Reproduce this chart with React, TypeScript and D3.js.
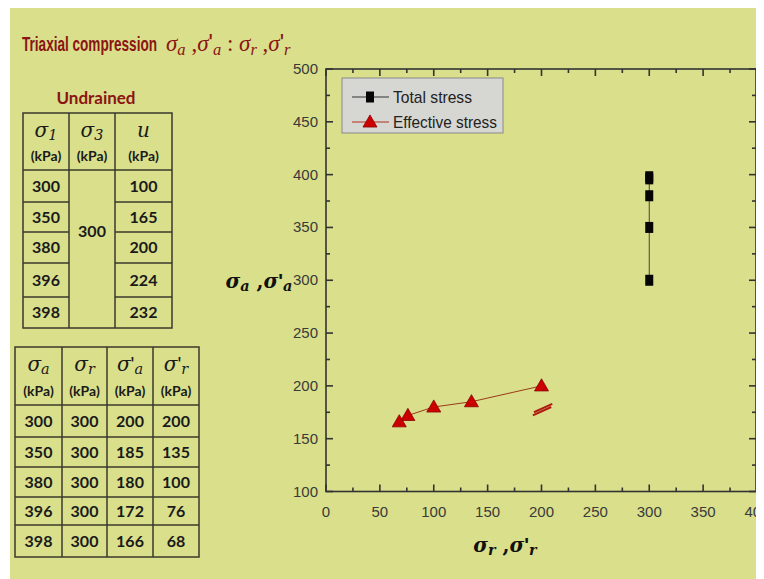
import React from 'react';
import * as d3 from 'd3';

// total stress path (sigma_r, sigma_a)
const totalR = [300, 300, 300, 300, 300];
const totalA = [300, 350, 380, 396, 398];
// effective stress path (sigma'_r, sigma'_a)
const effR = [200, 135, 100, 76, 68];
const effA = [200, 185, 180, 172, 166];

// undrained table
const sigma1 = ['300', '350', '380', '396', '398'];
const sigma3 = '300';
const poreU = ['100', '165', '200', '224', '232'];

// stress table
const colSa = ['300', '350', '380', '396', '398'];
const colSr = ['300', '300', '300', '300', '300'];
const colSaEff = ['200', '185', '180', '172', '166'];
const colSrEff = ['200', '135', '100', '76', '68'];

const xTicks = [0, 50, 100, 150, 200, 250, 300, 350, 400];
const yTicks = [100, 150, 200, 250, 300, 350, 400, 450, 500];
const legendLabels = ['Total stress', 'Effective stress'];

const W = 749;
const H = 571;
const BG = '#d9df8a';
const RED = '#8b1414';
const TBL_FONT = 'Lato, "Open Sans", sans-serif';
const MATH_FONT = '"DejaVu Serif", "Liberation Serif", serif';
const SERIF2 = '"Liberation Serif", "DejaVu Serif", serif';
const SANS = '"Liberation Sans", Arial, sans-serif';

// svg sits at (8,8) because of body margin
const ox = 8;
const oy = 8;

const Sig = ({ sub, prime, size = 20 }: { sub: string; prime?: boolean; size?: number }) => (
  <>
    <tspan fontStyle="italic">σ</tspan>
    {prime && <tspan fontStyle="normal" fontFamily={SANS}>'</tspan>}
    <tspan fontStyle="italic" fontSize={size * 0.72} baselineShift="-22%">{sub}</tspan>
  </>
);

const App = () => {
  const x = d3.scaleLinear().domain([0, 400]).range([326 - ox, 757 - ox]);
  const y = d3.scaleLinear().domain([100, 500]).range([491.5 - oy, 69 - oy]);
  const minorX = d3.range(0, 401, 25);
  const minorY = d3.range(100, 501, 25);

  const totalPts = totalR.map((r, i) => [r, totalA[i]] as [number, number]);
  const effPts = effR.map((r, i) => [r, effA[i]] as [number, number]);
  const line = d3.line<[number, number]>().x((d) => x(d[0])).y((d) => y(d[1]));
  const tri = d3.symbol().type(d3.symbolTriangle).size(85)();

  const [x0, x1] = x.range();
  const [y0, y1] = y.range();

  // table 1 geometry
  const t1c = [23, 69, 115, 172].map((v) => v - ox);
  const t1r = [113, 170, 202, 232, 263, 297, 328].map((v) => v - oy);
  // table 2 geometry
  const t2c = [15, 62, 107, 153, 199].map((v) => v - ox);
  const t2r = [347, 405, 437, 467, 497, 525, 557].map((v) => v - oy);

  const cellText = (cx: number, cy: number, t: string, key: string) => (
    <text key={key} x={cx} y={cy + 5.5} textAnchor="middle"
      fontFamily={TBL_FONT} fontWeight="bold" fontSize={16} fill="#1a1a1a">{t}</text>
  );

  const hdr = (cx: number, top: number, bot: number, sym: React.ReactNode, key: string) => (
    <g key={key}>
      <text x={cx} y={top + (bot - top) * 0.42} textAnchor="middle" fontFamily={MATH_FONT} fontSize={20} fill="#1a1a1a">{sym}</text>
      <text x={cx} y={top + (bot - top) * 0.84} textAnchor="middle" fontFamily={TBL_FONT} fontWeight="bold" fontSize={14} fill="#1a1a1a">(kPa)</text>
    </g>
  );

  const gridStroke = '#3a3a2a';

  return (
    <svg width={W} height={H} style={{ display: 'block', overflow: 'hidden' }}>
      <rect x={2} y={0} width={W - 2} height={H} fill={BG} />

      {/* title */}
      <text x={22 - ox} y={51 - oy} fontFamily={SANS} fontWeight="bold" fontSize={20} fill={RED}
        textLength={135} lengthAdjust="spacingAndGlyphs">
        Triaxial compression
      </text>
      <text x={166 - ox} y={51 - oy} fontFamily={SERIF2} fontSize={23} fill={RED}>
        <Sig sub="a" size={23} />
        <tspan> ,</tspan>
        <Sig sub="a" prime size={23} />
        <tspan> : </tspan>
        <Sig sub="r" size={23} />
        <tspan> ,</tspan>
        <Sig sub="r" prime size={23} />
      </text>

      {/* table 1 */}
      <text x={96 - ox} y={104 - oy} textAnchor="middle" fontFamily={TBL_FONT} fontWeight="bold" fontSize={17} fill={RED}>Undrained</text>
      <g stroke={gridStroke} strokeWidth={1.5} fill="none">
        <rect x={t1c[0]} y={t1r[0]} width={t1c[3] - t1c[0]} height={t1r[6] - t1r[0]} />
        <line x1={t1c[1]} x2={t1c[1]} y1={t1r[0]} y2={t1r[6]} />
        <line x1={t1c[2]} x2={t1c[2]} y1={t1r[0]} y2={t1r[6]} />
        <line x1={t1c[0]} x2={t1c[3]} y1={t1r[1]} y2={t1r[1]} />
        {t1r.slice(2, 6).map((r, i) => (
          <g key={i}>
            <line x1={t1c[0]} x2={t1c[1]} y1={r} y2={r} />
            <line x1={t1c[2]} x2={t1c[3]} y1={r} y2={r} />
          </g>
        ))}
      </g>
      {hdr((t1c[0] + t1c[1]) / 2, t1r[0], t1r[1], <Sig sub="1" size={20} />, 'h1')}
      {hdr((t1c[1] + t1c[2]) / 2, t1r[0], t1r[1], <Sig sub="3" size={20} />, 'h2')}
      {hdr((t1c[2] + t1c[3]) / 2, t1r[0], t1r[1], <tspan fontStyle="italic">u</tspan>, 'h3')}
      {sigma1.map((v, i) => cellText((t1c[0] + t1c[1]) / 2, (t1r[i + 1] + t1r[i + 2]) / 2, v, 's1' + i))}
      {poreU.map((v, i) => cellText((t1c[2] + t1c[3]) / 2, (t1r[i + 1] + t1r[i + 2]) / 2, v, 'u' + i))}
      {cellText((t1c[1] + t1c[2]) / 2, 231 - oy, sigma3, 's3')}

      {/* table 2 */}
      <g stroke={gridStroke} strokeWidth={1.5} fill="none">
        <rect x={t2c[0]} y={t2r[0]} width={t2c[4] - t2c[0]} height={t2r[6] - t2r[0]} />
        {t2c.slice(1, 4).map((c, i) => <line key={'c' + i} x1={c} x2={c} y1={t2r[0]} y2={t2r[6]} />)}
        {t2r.slice(1, 6).map((r, i) => <line key={'r' + i} x1={t2c[0]} x2={t2c[4]} y1={r} y2={r} />)}
      </g>
      {hdr((t2c[0] + t2c[1]) / 2, t2r[0], t2r[1], <Sig sub="a" size={20} />, 'g1')}
      {hdr((t2c[1] + t2c[2]) / 2, t2r[0], t2r[1], <Sig sub="r" size={20} />, 'g2')}
      {hdr((t2c[2] + t2c[3]) / 2, t2r[0], t2r[1], <Sig sub="a" prime size={20} />, 'g3')}
      {hdr((t2c[3] + t2c[4]) / 2, t2r[0], t2r[1], <Sig sub="r" prime size={20} />, 'g4')}
      {[colSa, colSr, colSaEff, colSrEff].map((col, ci) =>
        col.map((v, i) => cellText((t2c[ci] + t2c[ci + 1]) / 2, (t2r[i + 1] + t2r[i + 2]) / 2, v, `t${ci}-${i}`))
      )}

      {/* plot frame */}
      <g stroke="#333" strokeWidth={1.6}>
        <rect x={x0} y={y1} width={x1 - x0 - 1} height={y0 - y1} fill="none" />
        {minorX.map((v) => {
          const len = v % 50 === 0 ? 7 : 4;
          return (
            <g key={'tx' + v}>
              <line x1={x(v)} x2={x(v)} y1={y0} y2={y0 - len} />
              <line x1={x(v)} x2={x(v)} y1={y1} y2={y1 + len} />
            </g>
          );
        })}
        {minorY.map((v) => {
          const len = v % 50 === 0 ? 7 : 4;
          return (
            <g key={'ty' + v}>
              <line x1={x0} x2={x0 + len} y1={y(v)} y2={y(v)} />
              <line x1={x1 - 1} x2={x1 - 1 - len} y1={y(v)} y2={y(v)} />
            </g>
          );
        })}
      </g>
      {xTicks.map((v) => (
        <text key={'lx' + v} x={x(v)} y={y0 + 25} textAnchor="middle" fontFamily={SANS} fontSize={15} fill="#3a3a3a">{v}</text>
      ))}
      {yTicks.map((v) => (
        <text key={'ly' + v} x={x0 - 8} y={y(v) + 5} textAnchor="end" fontFamily={SANS} fontSize={15} fill="#3a3a3a">{v}</text>
      ))}

      {/* axis titles */}
      <text x={259 - ox} y={288 - oy} textAnchor="middle" fontFamily={MATH_FONT} fontWeight="bold" fontSize={20} fill="#111">
        <Sig sub="a" />
        <tspan> ,</tspan>
        <Sig sub="a" prime />
      </text>
      <text x={505 - ox} y={552 - oy} textAnchor="middle" fontFamily={MATH_FONT} fontWeight="bold" fontSize={20} fill="#111">
        <Sig sub="r" />
        <tspan> ,</tspan>
        <Sig sub="r" prime />
      </text>

      {/* series */}
      <path d={line(totalPts) || ''} fill="none" stroke="#444" strokeWidth={1} />
      {totalPts.map((p, i) => (
        <rect key={'sq' + i} x={x(p[0]) - 4} y={y(p[1]) - 5.5} width={8} height={11} fill="#050505" />
      ))}
      <path d={line(effPts) || ''} fill="none" stroke="#9a3a1a" strokeWidth={1} />
      {effPts.map((p, i) => (
        <path key={'tr' + i} d={tri || ''} transform={`translate(${x(p[0])},${y(p[1]) + 1})`} fill="#cc0000" stroke="#8a0000" strokeWidth={0.8} />
      ))}

      {/* axis-break mark */}
      <g stroke="#b01a10" strokeWidth={2}>
        <line x1={x(192)} y1={y(172)} x2={x(209)} y2={y(180)} />
        <line x1={x(193)} y1={y(175)} x2={x(210)} y2={y(183)} />
      </g>

      {/* legend */}
      <rect x={342 - ox} y={78 - oy} width={161} height={55} fill="#d6d6d2" stroke="#8a8a8a" strokeWidth={1} />
      {legendLabels.map((lab, i) => {
        const cy = 97 - oy + i * 25;
        return (
          <g key={lab}>
            <line x1={352 - ox} x2={389 - ox} y1={cy} y2={cy} stroke={i === 0 ? '#333' : '#b03020'} strokeWidth={1} />
            {i === 0 ? (
              <rect x={370 - ox - 4} y={cy - 5.5} width={8} height={11} fill="#050505" />
            ) : (
              <path d={tri || ''} transform={`translate(${370 - ox},${cy + 1})`} fill="#cc0000" stroke="#8a0000" strokeWidth={0.8} />
            )}
            <text x={393 - ox} y={cy + 6} fontFamily={SANS} fontSize={17} fill="#222"
              textLength={i === 0 ? 79 : 104} lengthAdjust="spacingAndGlyphs">{lab}</text>
          </g>
        );
      })}
    </svg>
  );
};

export default App;
